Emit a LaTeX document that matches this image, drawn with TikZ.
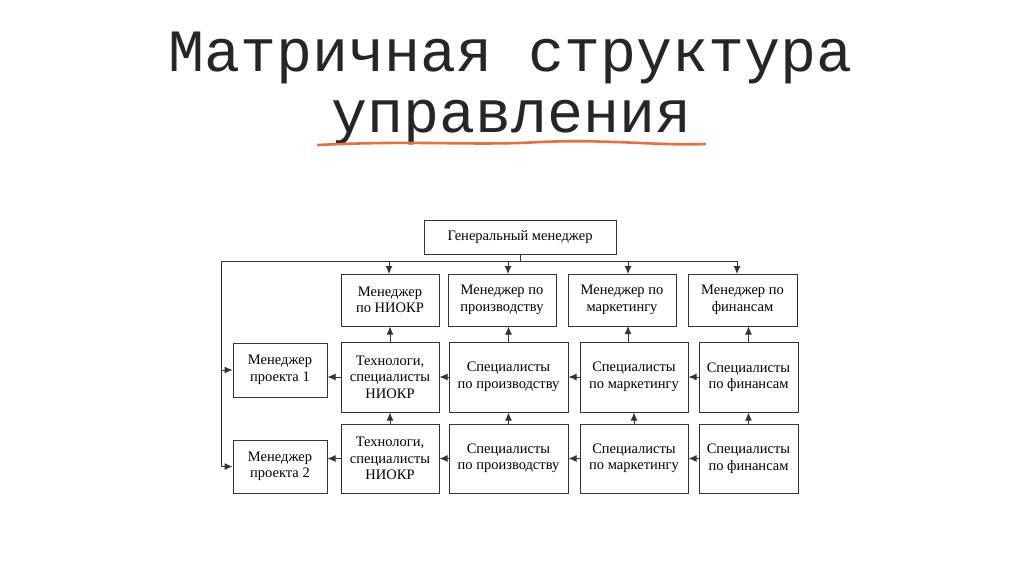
\documentclass[tikz,border=0pt]{standalone}
\usepackage{fontspec}
\setmainfont{Liberation Serif}
\newfontfamily\titlefont{Liberation Mono}
\usetikzlibrary{arrows.meta}
\begin{document}
\begin{tikzpicture}[x=1pt,y=-1pt,
  box/.style={draw=black!80,line width=1pt,align=center,font=\fontsize{14.5}{16.5}\selectfont,inner sep=0pt},
  arr/.style={draw=black!80,line width=1pt,-{Latex[length=8pt,width=7pt]}},
  ln/.style={draw=black!80,line width=1pt}]
\useasboundingbox (0,0) rectangle (1024,574);
\fill[white] (0,0) rectangle (1024,574);
\node[font=\titlefont\fontsize{60}{62}\selectfont,text=black!85] (t1) at (511,58) {Матричная структура};
\node[font=\titlefont\fontsize{60}{62}\selectfont,text=black!85] (t2) at (512,123) {управления};
\draw[color={rgb,255:red,232;green,112;blue,58},line width=2.6pt,line cap=round]
  (318,145) .. controls (420,140) and (470,146) .. (540,142) .. controls (610,139) and (660,146) .. (705,144);
% boxes
\node[box,minimum width=192,minimum height=34] (gm) at (520,237) {Генеральный менеджер};
\node[box,minimum width=98,minimum height=52] (m1) at (390,300) {Менеджер\\по НИОКР};
\node[box,minimum width=108,minimum height=52] (m2) at (502,300) {Менеджер по\\производству};
\node[box,minimum width=108,minimum height=52] (m3) at (622,300) {Менеджер по\\маркетингу};
\node[box,minimum width=109,minimum height=52] (m4) at (742.5,300) {Менеджер по\\финансам};
\node[box,minimum width=94,minimum height=54] (p1) at (280,370) {Менеджер\\проекта 1};
\node[box,minimum width=94,minimum height=53] (p2) at (280,466.5) {Менеджер\\проекта 2};
\node[box,minimum width=98,minimum height=70] (a1) at (390,377) {Технологи,\\специалисты\\НИОКР};
\node[box,minimum width=119,minimum height=70] (a2) at (508.5,377) {Специалисты\\по производству};
\node[box,minimum width=108,minimum height=70] (a3) at (634,377) {Специалисты\\по маркетингу};
\node[box,minimum width=99,minimum height=70] (a4) at (748.5,377) {Специалисты\\по финансам};
\node[box,minimum width=98,minimum height=69] (b1) at (390,458.5) {Технологи,\\специалисты\\НИОКР};
\node[box,minimum width=119,minimum height=69] (b2) at (508.5,458.5) {Специалисты\\по производству};
\node[box,minimum width=108,minimum height=69] (b3) at (634,458.5) {Специалисты\\по маркетингу};
\node[box,minimum width=99,minimum height=69] (b4) at (748.5,458.5) {Специалисты\\по финансам};
% bus
\coordinate (busL) at (221,261);
\coordinate (busR) at (737,261);
\draw[ln] (gm.south) -- (520,261);
\draw[ln] (busR) -- (busL) -- (221,466.5);
\draw[arr] (389,261) -- (389,274);
\draw[arr] (508,261) -- (508,274);
\draw[arr] (628,261) -- (628,274);
\draw[arr] (737,261) -- (737,274);
\draw[arr] (221,370) -- (p1.west);
\draw[arr] (221,466.5) -- (p2.west);
% up arrows
\draw[arr] (a1.north) -- (a1.north|-m1.south);
\draw[arr] (a2.north) -- (a2.north|-m2.south);
\draw[arr] (628,342) -- (628,326);
\draw[arr] (a4.north) -- (a4.north|-m4.south);
\draw[arr] (b1.north) -- (a1.south);
\draw[arr] (b2.north) -- (a2.south);
\draw[arr] (b3.north) -- (a3.south);
\draw[arr] (b4.north) -- (a4.south);
% left arrows
\draw[arr] (a1.west) -- (a1.west-|p1.east);
\draw[arr] (a2.west) -- (a1.east);
\draw[arr] (a3.west) -- (a2.east);
\draw[arr] (a4.west) -- (a3.east);
\draw[arr] (b1.west) -- (b1.west-|p2.east);
\draw[arr] (b2.west) -- (b1.east);
\draw[arr] (b3.west) -- (b2.east);
\draw[arr] (b4.west) -- (b3.east);
\end{tikzpicture}
\end{document}
